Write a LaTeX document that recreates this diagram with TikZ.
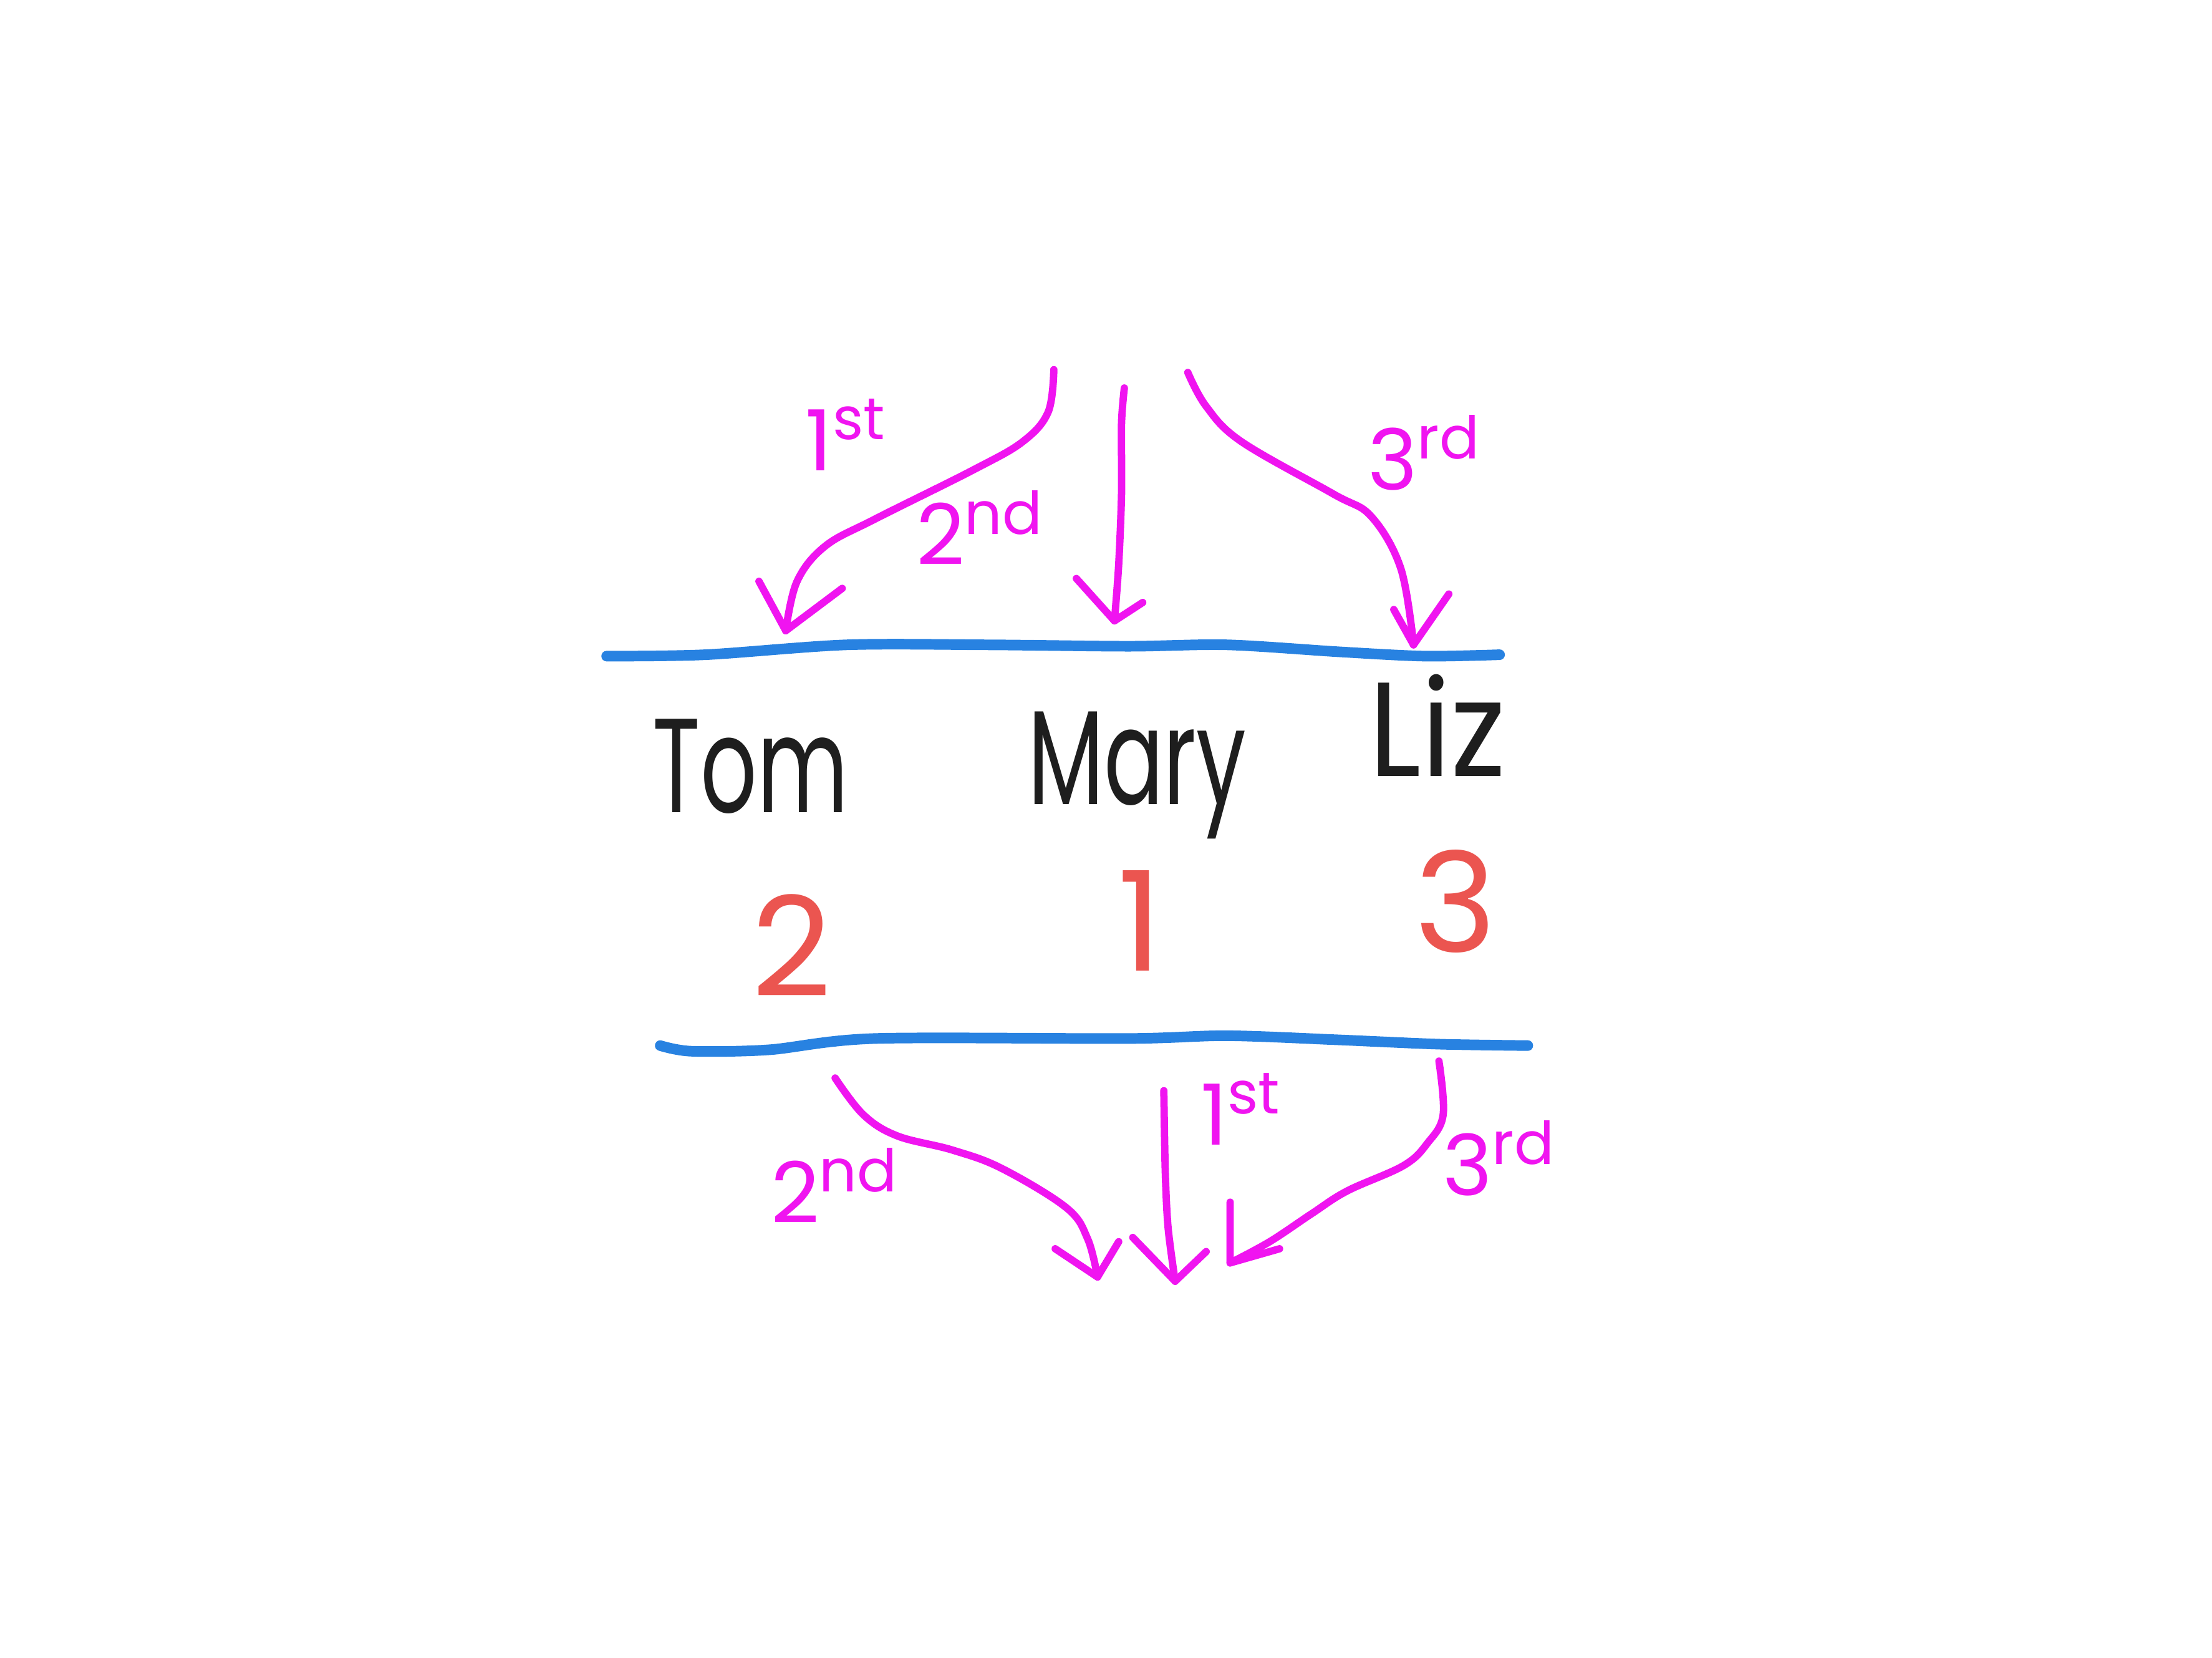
\documentclass[tikz,border=0pt]{standalone}
\usepackage{fontspec}
\setmainfont{Poppins}
\definecolor{pen}{RGB}{240,20,240}
\definecolor{rulecol}{RGB}{40,130,225}
\definecolor{rankcol}{RGB}{235,85,80}
\definecolor{ink}{RGB}{30,30,30}
\newcommand{\narrow}[2]{\scalebox{#1}[1]{#2}}
\begin{document}
\begin{tikzpicture}[x=0.1mm,y=-0.1mm,line cap=round,line join=round,
  stroke/.style={draw=pen,line width=0.52mm},
  rule/.style={draw=rulecol,line width=0.75mm},
  who/.style={text=ink,font=\fontsize{27}{30}\selectfont,inner sep=0pt,anchor=base},
  rank/.style={text=rankcol,font=\fontsize{28}{30}\selectfont,inner sep=0pt,anchor=base},
  ord/.style={text=pen,font=\fontsize{17}{19}\selectfont,inner sep=0pt}]
\useasboundingbox[fill=white] (0,0) rectangle (1568,1175);

% blue rules
\coordinate (r1l) at (430,465); \coordinate (r1r) at (1063,464);
\coordinate (r2l) at (468,741); \coordinate (r2r) at (1083,741);
\draw[rule] plot[smooth,tension=0.5] coordinates {(r1l) (500,464) (600,457) (700,457) (800,458) (870,457) (950,462) (1010,465) (r1r)};
\draw[rule] plot[smooth,tension=0.5] coordinates {(r2l) (490,745) (545,744) (620,736) (800,736) (870,734) (950,737) (1020,740) (r2r)};

% names
\node[who] (tom) at (532,576) {\narrow{0.66}{Tom}};
\node[who] (mary) at (806,570) {\narrow{0.66}{Mary}};
\node[who] (liz) at (1019,550) {\narrow{0.9}{Liz}};

% ranks
\node[rank] (n2) at (561,706) {2};
\node[rank] (n1) at (808,688) {1};
\node[rank] (n3) at (1032,675) {3};

% top arrows
\coordinate (t1s) at (747,262); \coordinate (t1t) at (557,447);
\coordinate (t1a) at (538,412); \coordinate (t1b) at (597,417);
\draw[stroke] plot[smooth,tension=0.6] coordinates {(t1s) (743,292) (725,313) (690,333) (620,368) (585,387) (565,412) (t1t)};
\draw[stroke] (t1a) -- (t1t) -- (t1b);

\coordinate (t2s) at (797,275); \coordinate (t2t) at (790,440);
\coordinate (t2a) at (763,410); \coordinate (t2b) at (810,427);
\draw[stroke] plot[smooth,tension=0.5] coordinates {(t2s) (795,300) (795,350) (793,400) (t2t)};
\draw[stroke] (t2a) -- (t2t) -- (t2b);

\coordinate (t3s) at (842,264); \coordinate (t3t) at (1002,457);
\coordinate (t3a) at (988,432); \coordinate (t3b) at (1027,421);
\draw[stroke] plot[smooth,tension=0.6] coordinates {(t3s) (855,288) (880,313) (945,350) (972,366) (993,403) (t3t)};
\draw[stroke] (t3a) -- (t3t) -- (t3b);

\node[ord] (o1) at (600,308) {1\textsuperscript{st}};
\node[ord] (o2) at (695,374) {2\textsuperscript{nd}};
\node[ord] (o3) at (1010,321) {3\textsuperscript{rd}};

% bottom arrows
\coordinate (b1s) at (592,764); \coordinate (b1t) at (778,905);
\coordinate (b1a) at (748,885); \coordinate (b1b) at (793,880);
\draw[stroke] plot[smooth,tension=0.6] coordinates {(b1s) (612,790) (636,805) (675,815) (710,828) (756,856) (771,878) (b1t)};
\draw[stroke] (b1a) -- (b1t) -- (b1b);

\coordinate (b2s) at (825,773); \coordinate (b2t) at (833,908);
\coordinate (b2a) at (803,877); \coordinate (b2b) at (855,887);
\draw[stroke] plot[smooth,tension=0.5] coordinates {(b2s) (826,830) (828,870) (b2t)};
\draw[stroke] (b2a) -- (b2t) -- (b2b);

\coordinate (b3s) at (1020,752); \coordinate (b3t) at (872,895);
\coordinate (b3a) at (872,852); \coordinate (b3b) at (907,885);
\draw[stroke] plot[smooth,tension=0.6] coordinates {(b3s) (1023,790) (1012,810) (995,826) (955,844) (930,860) (900,880) (b3t)};
\draw[stroke] (b3a) -- (b3t) -- (b3b);

\node[ord] (p2) at (592,840) {2\textsuperscript{nd}};
\node[ord] (p1) at (880,786) {1\textsuperscript{st}};
\node[ord] (p3) at (1063,821) {3\textsuperscript{rd}};
\end{tikzpicture}
\end{document}
